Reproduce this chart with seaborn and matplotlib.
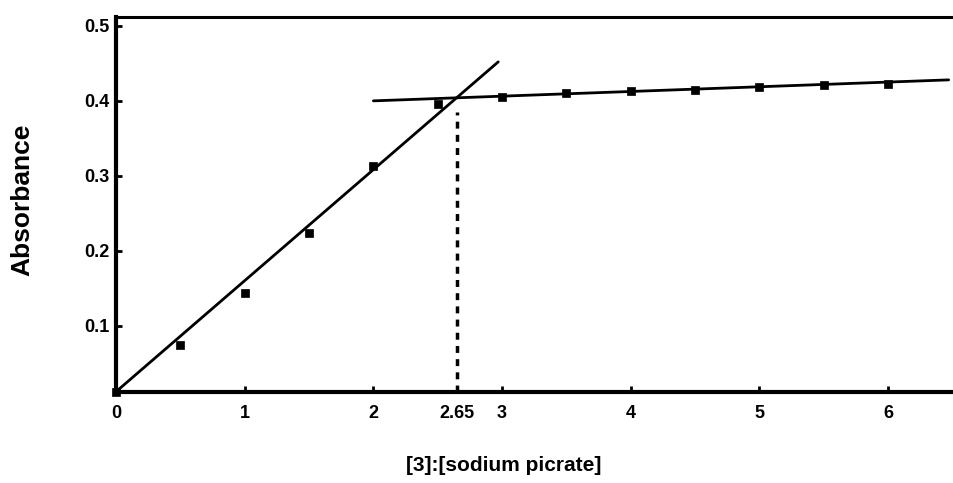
import matplotlib
matplotlib.use("Agg")
import matplotlib.pyplot as plt
import numpy as np
import pandas as pd
import seaborn as sns

# measured points: mole ratio [3]:[sodium picrate] vs absorbance
ratio = [0.0, 0.5, 1.0, 1.5, 2.0, 2.5, 3.0, 3.5, 4.0, 4.5, 5.0, 5.5, 6.0]
absorbance = [0.012, 0.074, 0.144, 0.224, 0.313, 0.396, 0.405, 0.410,
              0.413, 0.415, 0.418, 0.421, 0.423]

# hand-drawn fit lines (endpoints)
rise_x = [0.0, 2.97]
rise_y = [0.012, 0.452]
plateau_x = [2.0, 6.47]
plateau_y = [0.400, 0.428]

# break point
break_x = 2.65
break_y = 0.40

x_ticks = [0, 1, 2, 2.65, 3, 4, 5, 6]
x_ticklabels = ["0", "1", "2", "2.65", "3", "4", "5", "6"]
y_ticks = [0.1, 0.2, 0.3, 0.4, 0.5]

sns.set_theme(style="white")
plt.rcParams["font.family"] = ["Liberation Sans", "DejaVu Sans"]
plt.rcParams["font.weight"] = "bold"
plt.rcParams["text.color"] = "black"
plt.rcParams["axes.labelcolor"] = "black"

df = pd.DataFrame({"ratio": ratio, "absorbance": absorbance})
rise = pd.DataFrame({"x": rise_x, "y": rise_y})
plateau = pd.DataFrame({"x": plateau_x, "y": plateau_y})

fig = plt.figure(figsize=(9.54, 4.83), dpi=100)
ax = fig.add_axes([0.1216, 0.1884, 0.8755, 0.965 - 0.1884])

sns.lineplot(data=rise, x="x", y="y", color="black", lw=2, ax=ax)
sns.lineplot(data=plateau, x="x", y="y", color="black", lw=2, ax=ax)
ax.plot([break_x, break_x], [0.0116, break_y - 0.015], color="black",
        lw=2.5, ls=(0, (2, 1.8)))
sns.scatterplot(data=df, x="ratio", y="absorbance", marker="s", s=40,
                color="black", edgecolor="black", linewidth=0.5,
                zorder=5, clip_on=False, ax=ax)

ax.set_xlim(0, 6.49)
ax.set_ylim(0.0116, 0.512)
ax.set_xticks(x_ticks)
ax.set_xticklabels(x_ticklabels)
ax.set_yticks(y_ticks)
ax.set_yticklabels([f"{v:.1f}" for v in y_ticks])
ax.tick_params(bottom=True, left=True, direction="in", length=4, width=2,
               labelsize=13, colors="black")
ax.tick_params(axis="x", pad=9)
ax.tick_params(axis="y", pad=5)
for lab in ax.get_xticklabels() + ax.get_yticklabels():
    lab.set_fontweight("bold")

ax.spines["right"].set_visible(False)
for side in ("left", "bottom"):
    ax.spines[side].set_linewidth(3)
    ax.spines[side].set_color("black")
ax.spines["top"].set_linewidth(2.2)
ax.spines["top"].set_color("black")

ax.set_xlabel("[3]:[sodium picrate]", fontsize=15, fontweight="bold",
              color="black")
ax.set_ylabel("Absorbance", fontsize=19, fontweight="bold", color="black")
ax.xaxis.set_label_coords(0.464, -0.197)
ax.xaxis.label.set_va("center")
ax.yaxis.set_label_coords(-0.1127, 0.512)
ax.yaxis.label.set_va("center")

fig.savefig("out.png", dpi=100)
